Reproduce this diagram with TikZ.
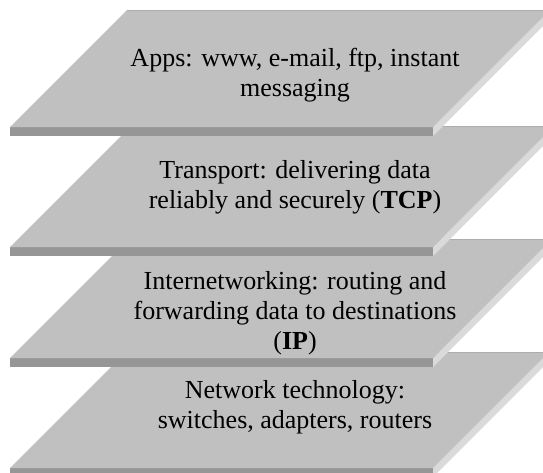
\documentclass[tikz,border=0pt]{standalone}
\usepackage{fontspec}
\setmainfont{Liberation Serif}
\begin{document}
\begin{tikzpicture}[x=1pt, y=-1pt,
  layertext/.style={align=center, font=\fontsize{26}{30}\selectfont, text=black}]
\definecolor{topcol}{HTML}{C0C0C0}
\definecolor{frontcol}{HTML}{969696}
\definecolor{sidecol}{HTML}{DADADA}
\definecolor{edgecol}{HTML}{ADADAD}
\clip (0,0) rectangle (543,472);
% network technology
\fill[frontcol] (10,468) rectangle (433,477);
\fill[sidecol] (433,468) -- (549,352) -- (549,361) -- (433,477) -- cycle;
\fill[topcol] (10,468) -- (433,468) -- (549,352) -- (126,352) -- cycle;
\draw[edgecol, line width=1pt] (126,352.5) -- (549,352.5);
\node[layertext] (nettech) at (295,407) {Network technology:\\switches, adapters, routers};
% internetworking
\fill[frontcol] (10,358) rectangle (433,367);
\fill[sidecol] (433,358) -- (552,239) -- (552,248) -- (433,367) -- cycle;
\fill[topcol] (10,358) -- (433,358) -- (552,239) -- (129,239) -- cycle;
\draw[edgecol, line width=1pt] (129,239.5) -- (552,239.5);
\node[layertext] (inet) at (295,313) {Internetworking: routing and\\forwarding data to destinations\\(\textbf{IP})};
% transport
\fill[frontcol] (10,247) rectangle (433,256);
\fill[sidecol] (433,247) -- (554,126) -- (554,135) -- (433,256) -- cycle;
\fill[topcol] (10,247) -- (433,247) -- (554,126) -- (131,126) -- cycle;
\draw[edgecol, line width=1pt] (131,126.5) -- (554,126.5);
\node[layertext] (transport) at (295,187) {Transport: delivering data\\reliably and securely (\textbf{TCP})};
% apps
\fill[frontcol] (10,127) rectangle (433,136);
\fill[sidecol] (433,127) -- (550,10) -- (550,19) -- (433,136) -- cycle;
\fill[topcol] (10,127) -- (433,127) -- (550,10) -- (127,10) -- cycle;
\draw[edgecol, line width=1pt] (127,10.5) -- (550,10.5);
\node[layertext] (apps) at (295,75) {Apps: www, e-mail, ftp, instant\\messaging};
\end{tikzpicture}
\end{document}
